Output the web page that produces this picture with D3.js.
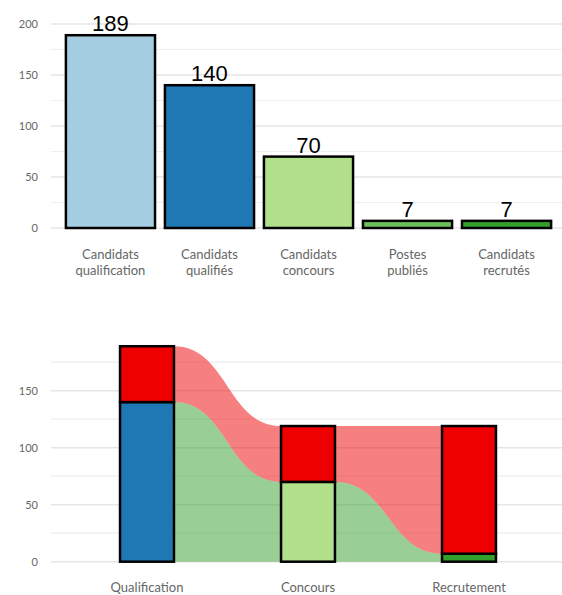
<!DOCTYPE html>
<html><head><meta charset="utf-8">
<script src="https://cdn.jsdelivr.net/npm/d3@7"></script>
<style>
body{margin:0;background:#fff}
svg{display:block}
</style></head>
<body><svg id="c" width="562" height="595"></svg>
<script>
// ---- data ----
const topCategories = [["Candidats","qualification"],["Candidats","qualifiés"],["Candidats","concours"],["Postes","publiés"],["Candidats","recrutés"]];
const topValues = [189, 140, 70, 7, 7];
const topColors = ["#a6cee3", "#1f78b4", "#b2df8a", "#6cbf5a", "#33a02c"];
const topTicks = [0, 50, 100, 150, 200];
const topGrid = [0, 25, 50, 75, 100, 125, 150, 175, 200];

const stages = ["Qualification", "Concours", "Recrutement"];
const passed = [140, 70, 7];      // lower (success) segment
const rejected = [49, 49, 112];   // upper (red) segment
const passColors = ["#1f78b4", "#b2df8a", "#33a02c"];
const rejectColor = "#ee0000";
const botTicks = [0, 50, 100, 150];
const botGrid = [0, 25, 50, 75, 100, 125, 150, 175];

const svg = d3.select("#c");
const tickFont = "Lato, 'Open Sans', sans-serif";

// ---- top chart ----
const y1 = d3.scaleLinear().domain([0, 200]).range([228, 24]);
const x1 = d3.scaleBand().domain(d3.range(topValues.length)).range([56, 561]).padding(0.1);
const g1 = svg.append("g");
g1.selectAll("line.grid").data(topGrid).join("line")
  .attr("x1", 51).attr("x2", 562)
  .attr("y1", d => y1(d)).attr("y2", d => y1(d))
  .attr("stroke", d => d % 50 === 0 ? "#e6e6e6" : "#eeeeee")
  .attr("stroke-width", d => d % 50 === 0 ? 1.6 : 1.2);
g1.selectAll("text.tick").data(topTicks).join("text")
  .attr("x", 38).attr("y", d => y1(d)).attr("dy", "0.35em")
  .attr("text-anchor", "end").attr("font-family", tickFont).attr("font-size", 11)
  .attr("fill", "#666").text(d => d);
g1.selectAll("rect.bar").data(topValues).join("rect")
  .attr("x", (d, i) => x1(i)).attr("width", x1.bandwidth())
  .attr("y", d => y1(d)).attr("height", d => y1(0) - y1(d))
  .attr("fill", (d, i) => topColors[i]).attr("stroke", "#000").attr("stroke-width", 2.5);
g1.selectAll("text.val").data(topValues).join("text")
  .attr("x", (d, i) => x1(i) + x1.bandwidth() / 2).attr("y", d => y1(d) - 4)
  .attr("text-anchor", "middle").attr("font-family", "'Liberation Sans', Arial, sans-serif")
  .attr("font-size", 22).attr("fill", "#000").text(d => d);
topCategories.forEach((lines, i) => {
  const t = g1.append("text").attr("text-anchor", "middle").attr("font-family", tickFont)
    .attr("font-size", 13).attr("fill", "#666");
  lines.forEach((l, j) => t.append("tspan").attr("x", x1(i) + x1.bandwidth() / 2).attr("y", 259 + j * 16).text(l));
});

// ---- bottom chart ----
const y2 = d3.scaleLinear().domain([0, 150]).range([561.7, 390.7]);
const x2 = d3.scaleBand().domain(stages).range([66.5, 549.5]).paddingInner(0.665).paddingOuter(0.3325);
const g2 = svg.append("g");
g2.selectAll("line.grid").data(botGrid).join("line")
  .attr("x1", 51).attr("x2", 562)
  .attr("y1", d => y2(d)).attr("y2", d => y2(d))
  .attr("stroke", d => d % 50 === 0 ? "#e6e6e6" : "#eeeeee")
  .attr("stroke-width", d => d % 50 === 0 ? 1.6 : 1.2);
g2.selectAll("text.tick").data(botTicks).join("text")
  .attr("x", 38).attr("y", d => y2(d)).attr("dy", "0.35em")
  .attr("text-anchor", "end").attr("font-family", tickFont).attr("font-size", 11)
  .attr("fill", "#666").text(d => d);

// ribbons
function ribbon(xa, xb, lowA, lowB, highA, highB) {
  const mx = (xa + xb) / 2;
  return `M${xa},${y2(highA)} C${mx},${y2(highA)} ${mx},${y2(highB)} ${xb},${y2(highB)}`
    + ` L${xb},${y2(lowB)} C${mx},${y2(lowB)} ${mx},${y2(lowA)} ${xa},${y2(lowA)} Z`;
}
for (let i = 0; i < stages.length - 1; i++) {
  const xa = x2(stages[i]) + x2.bandwidth();
  const xb = x2(stages[i + 1]);
  g2.append("path").attr("d", ribbon(xa, xb, 0, 0, passed[i], passed[i + 1]))
    .attr("fill", "#33a02c").attr("fill-opacity", 0.5);
  g2.append("path").attr("d", ribbon(xa, xb, passed[i], passed[i + 1], passed[i] + rejected[i], passed[i + 1] + rejected[i + 1]))
    .attr("fill", "#ee0000").attr("fill-opacity", 0.5);
}
stages.forEach((s, i) => {
  g2.append("rect").attr("x", x2(s)).attr("width", x2.bandwidth())
    .attr("y", y2(passed[i])).attr("height", y2(0) - y2(passed[i]))
    .attr("fill", passColors[i]).attr("stroke", "#000").attr("stroke-width", 2.5);
  g2.append("rect").attr("x", x2(s)).attr("width", x2.bandwidth())
    .attr("y", y2(passed[i] + rejected[i])).attr("height", y2(passed[i]) - y2(passed[i] + rejected[i]))
    .attr("fill", rejectColor).attr("stroke", "#000").attr("stroke-width", 2.5);
  g2.append("text").attr("x", x2(s) + x2.bandwidth() / 2).attr("y", 592)
    .attr("text-anchor", "middle").attr("font-family", tickFont).attr("font-size", 13)
    .attr("fill", "#666").text(s);
});
</script></body></html>
